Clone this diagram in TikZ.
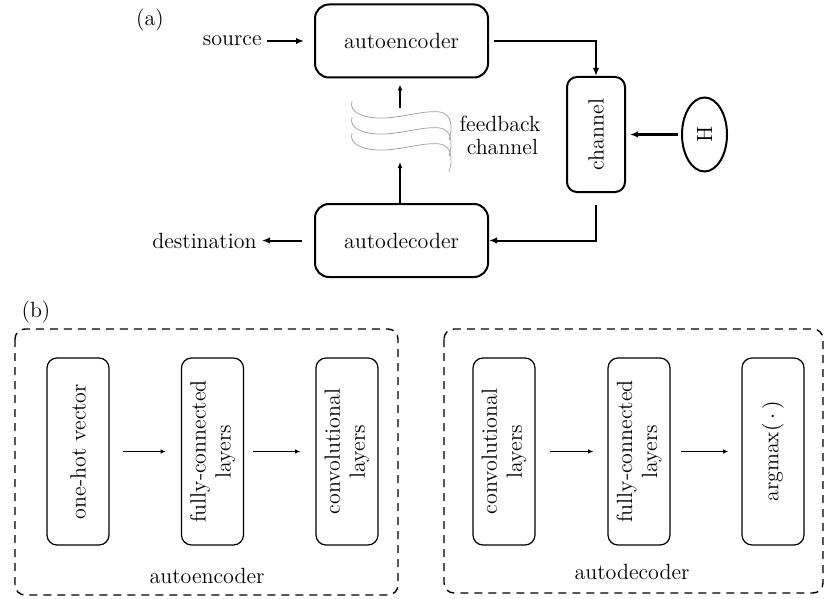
\documentclass[tikz,border=0pt]{standalone}
\usetikzlibrary{arrows.meta,calc,shapes.geometric}
\begin{document}
\begin{tikzpicture}[x=0.5pt,y=-0.5pt,
  font=\fontsize{11pt}{12.5pt}\selectfont,
  bigbox/.style={draw,line width=1pt,rounded corners=7pt,minimum width=86.5pt,minimum height=36.5pt,inner sep=0pt},
  chbox/.style={draw,line width=1pt,rounded corners=5pt,minimum width=29pt,minimum height=57.5pt,inner sep=0pt},
  smallbox/.style={draw,line width=0.6pt,rounded corners=5pt,minimum width=31pt,minimum height=93.5pt,inner sep=0pt},
  vtext/.style={rotate=90,align=center},
  dashbox/.style={draw,line width=0.7pt,dash pattern=on 4pt off 3pt,rounded corners=5pt},
  thickarrow/.style={line width=1pt,-{Latex[length=4pt,width=3.2pt]}},
  thinarrow/.style={line width=0.6pt,-{Latex[length=2.6pt,width=2.2pt]}},
  wave/.style={draw=gray!70,line width=0.4pt}
]
\useasboundingbox (0,0) rectangle (824,599);

% ----- (a) -----
\node (la) at (150,20) {(a)};
\node[bigbox] (enc) at (401.5,41) {autoencoder};
\node[bigbox] (dec) at (401.5,240.5) {autodecoder};
\node[chbox] (ch) at (596,134.5) {};
\node[vtext] (chtxt) at (ch.center) {channel};
\node[draw,line width=1pt,ellipse,minimum width=22.5pt,minimum height=37pt,inner sep=0pt] (H) at (704.5,134.5) {};
\node[rotate=90] (Htxt) at (H.center) {H};
\node[anchor=east,inner sep=0pt] (src) at (262,41) {source};
\node[anchor=east,inner sep=0pt] (dst) at (257,240.5) {destination};
\node[align=left,inner sep=0pt] (fbtxt) at (500,135) {feedback\\[-1pt]\ channel};

\draw[thickarrow,shorten <=2.5pt,shorten >=5pt] (src.east) -- (src.east -| enc.west);
\draw[thickarrow,shorten <=2.5pt] (enc.east) -| (ch.north);
\draw[thickarrow,shorten <=1.5pt,shorten >=2pt] (H.west) -- (H.west -| ch.east);
\draw[thickarrow,shorten <=6pt] (ch.south) |- (dec.east);
\draw[thickarrow,shorten <=6pt,shorten >=2.5pt] (dec.west) -- (dec.west -| dst.east);

\coordinate (fb1) at (400,162);
\coordinate (fb2) at (400,108);
\draw[line width=1pt,-{Latex[length=3pt,width=2.5pt]}] (dec.north -| fb1) -- (fb1);
\draw[line width=1pt,-{Latex[length=3pt,width=2.5pt]},shorten >=3pt] (fb2) -- (enc.south -| fb2);

\foreach \d in {0,16,32}{
  \draw[wave] (352,{101+\d}) .. controls (348,{113+\d}) and (366,{119+\d}) .. (385,{118+\d})
     .. controls (405,{117+\d}) and (425,{110+\d}) .. (440,{112+\d})
     .. controls (452,{114+\d}) and (453,{128+\d}) .. (449,{140+\d});
}

% ----- (b) -----
\node (lb) at (36,312) {(b)};
\draw[dashbox] (15,329) rectangle (398,595);
\draw[dashbox] (444,329) rectangle (823,593);

\node[smallbox] (e1) at (78,451.5) {};
\node[vtext] at (e1.center) {one-hot vector};
\node[smallbox] (e2) at (212.5,451.5) {};
\node[vtext] at (e2.center) {fully-connected\\layers};
\node[smallbox] (e3) at (347,451.5) {};
\node[vtext] at (e3.center) {convolutional\\layers};

\node[smallbox] (d1) at (504,451.5) {};
\node[vtext] at (d1.center) {convolutional\\layers};
\node[smallbox] (d2) at (639,451.5) {};
\node[vtext] at (d2.center) {fully-connected\\layers};
\node[smallbox] (d3) at (773,451.5) {};
\node[vtext] at (d3.center) {argmax$(\,\cdot\,)$};

\draw[thinarrow,shorten <=6.5pt,shorten >=7.5pt] (e1.east) -- (e2.west);
\draw[thinarrow,shorten <=4.5pt,shorten >=7.5pt] (e2.east) -- (e3.west);
\draw[thinarrow,shorten <=7pt,shorten >=7pt] (d1.east) -- (d2.west);
\draw[thinarrow,shorten <=5pt,shorten >=6.5pt] (d2.east) -- (d3.west);

\node (encl) at (207,576) {autoencoder};
\node (decl) at (632,572) {autodecoder};
\end{tikzpicture}
\end{document}
